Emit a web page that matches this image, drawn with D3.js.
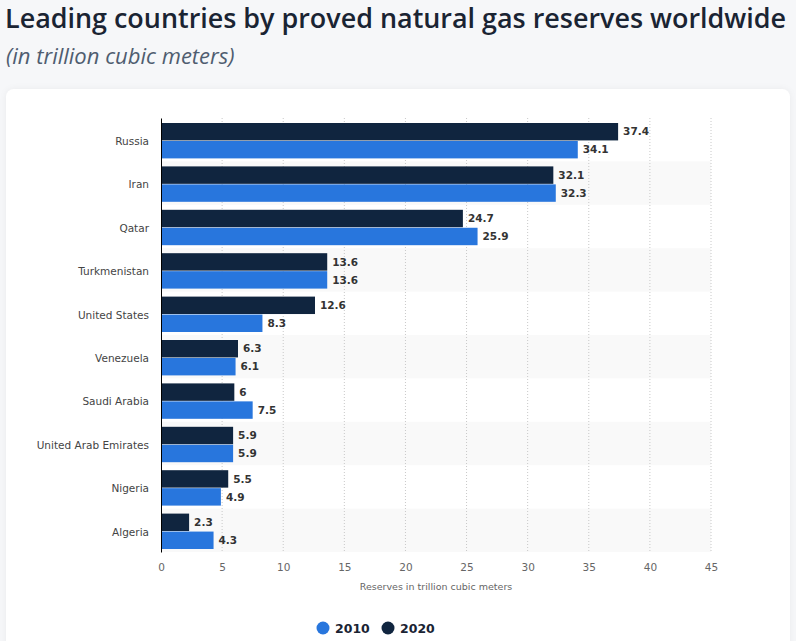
<!DOCTYPE html>
<meta charset="utf-8">
<title>Natural gas reserves</title>
<script src="https://d3js.org/d3.v7.min.js"></script>
<style>
    body { margin: 0; background: #f6f7f9; }
    svg { display: block; }
</style>
<body>
<div id="chart"></div>
<script>
    // data
    var countries = ["Russia", "Iran", "Qatar", "Turkmenistan", "United States", "Venezuela",
        "Saudi Arabia", "United Arab Emirates", "Nigeria", "Algeria"];
    var values2020 = [37.4, 32.1, 24.7, 13.6, 12.6, 6.3, 6, 5.9, 5.5, 2.3];
    var values2010 = [34.1, 32.3, 25.9, 13.6, 8.3, 6.1, 7.5, 5.9, 4.9, 4.3];
    var seriesNames = ["2020", "2010"];
    var legendNames = ["2010", "2020"];
    var xTicks = [0, 5, 10, 15, 20, 25, 30, 35, 40, 45];

    var colors = {"2010": "#2876dd", "2020": "#10253f"};

    var W = 796, H = 641;
    var margin = {top: 118, left: 161, right: 85, bottom: 89};
    var width = W - margin.left - margin.right,
        height = H - margin.top - margin.bottom;

    var svg = d3.select("#chart").append("svg")
        .attr("width", W).attr("height", H);

    // card
    svg.append("rect")
        .attr("x", 6).attr("y", 89).attr("width", 784).attr("height", 570)
        .attr("rx", 8).attr("fill", "#fff")
        .style("filter", "drop-shadow(0 0 3px rgba(0,0,0,0.05))");

    // title
    svg.append("text")
        .attr("x", 5).attr("y", 28)
        .attr("font-family", "Open Sans").attr("font-weight", 600)
        .attr("font-size", 27).attr("fill", "#1a2433")
        .attr("textLength", 781).attr("lengthAdjust", "spacingAndGlyphs")
        .text("Leading countries by proved natural gas reserves worldwide");
    svg.append("text")
        .attr("x", 6).attr("y", 64)
        .attr("font-family", "Open Sans").attr("font-style", "italic")
        .attr("font-size", 22).attr("fill", "#4f5d70")
        .text("(in trillion cubic meters)");

    var g = svg.append("g")
        .attr("transform", "translate(" + margin.left + "," + margin.top + ")");

    var x = d3.scaleLinear().domain([0, 45]).range([0, width]);
    var y = d3.scaleBand().domain(countries).range([0, height]);
    var y1 = d3.scaleBand().domain(seriesNames).range([5, y.bandwidth() - 3])
        .paddingInner(0.03);

    // shaded rows
    g.selectAll(".stripe")
        .data(countries.filter(function(d, i) { return i % 2 == 1; }))
        .enter().append("rect")
        .attr("x", 0).attr("y", function(d) { return y(d); })
        .attr("width", width).attr("height", y.bandwidth())
        .attr("fill", "#f9f9f9");

    // grid
    g.selectAll(".grid")
        .data(xTicks.slice(1))
        .enter().append("line")
        .attr("x1", function(d) { return x(d); }).attr("x2", function(d) { return x(d); })
        .attr("y1", 0).attr("y2", height)
        .attr("stroke", "#c8c8c8").attr("stroke-dasharray", "1,2");

    var rows = countries.map(function(c, i) {
        return {country: c, vals: [{s: "2020", v: values2020[i]}, {s: "2010", v: values2010[i]}]};
    });

    var grp = g.selectAll(".row").data(rows).enter().append("g")
        .attr("transform", function(d) { return "translate(0," + y(d.country) + ")"; });

    grp.selectAll("rect").data(function(d) { return d.vals; })
        .enter().append("rect")
        .attr("x", 0).attr("y", function(d) { return y1(d.s); })
        .attr("width", function(d) { return x(d.v); })
        .attr("height", y1.bandwidth())
        .attr("fill", function(d) { return colors[d.s]; });

    grp.selectAll("text").data(function(d) { return d.vals; })
        .enter().append("text")
        .attr("x", function(d) { return x(d.v) + 5; })
        .attr("y", function(d) { return y1(d.s) + y1.bandwidth() / 2; })
        .attr("dy", "0.35em")
        .attr("font-family", "DejaVu Sans").attr("font-weight", "bold")
        .attr("font-size", 10.5).attr("fill", "#333")
        .text(function(d) { return d.v; });

    // y axis
    var yAxis = g.append("g").call(d3.axisLeft(y).tickSize(0).tickPadding(12));
    yAxis.select(".domain").attr("stroke", "#000");
    yAxis.selectAll("text")
        .attr("dy", "0.5em")
        .attr("font-family", "DejaVu Sans").attr("font-size", 10.5).attr("fill", "#444");

    // x axis
    var xAxis = g.append("g").attr("transform", "translate(0," + height + ")")
        .call(d3.axisBottom(x).tickValues(xTicks).tickSize(0).tickPadding(12));
    xAxis.select(".domain").remove();
    xAxis.selectAll("text")
        .attr("font-family", "DejaVu Sans").attr("font-size", 10.5).attr("fill", "#666");

    g.append("text")
        .attr("x", width / 2).attr("y", height + 38)
        .attr("text-anchor", "middle")
        .attr("font-family", "DejaVu Sans").attr("font-size", 9.5).attr("fill", "#666")
        .text("Reserves in trillion cubic meters");

    // legend
    var leg = svg.append("g").attr("transform", "translate(323,628)");
    var li = leg.selectAll("g").data(legendNames).enter().append("g")
        .attr("transform", function(d, i) { return "translate(" + (i * 65) + ",0)"; });
    li.append("circle").attr("r", 6.5).attr("fill", function(d) { return colors[d]; });
    li.append("text").attr("x", 12).attr("dy", "0.36em")
        .attr("font-family", "DejaVu Sans").attr("font-weight", "bold")
        .attr("font-size", 12.5).attr("fill", "#1a2433")
        .text(function(d) { return d; });
</script>
</body>
